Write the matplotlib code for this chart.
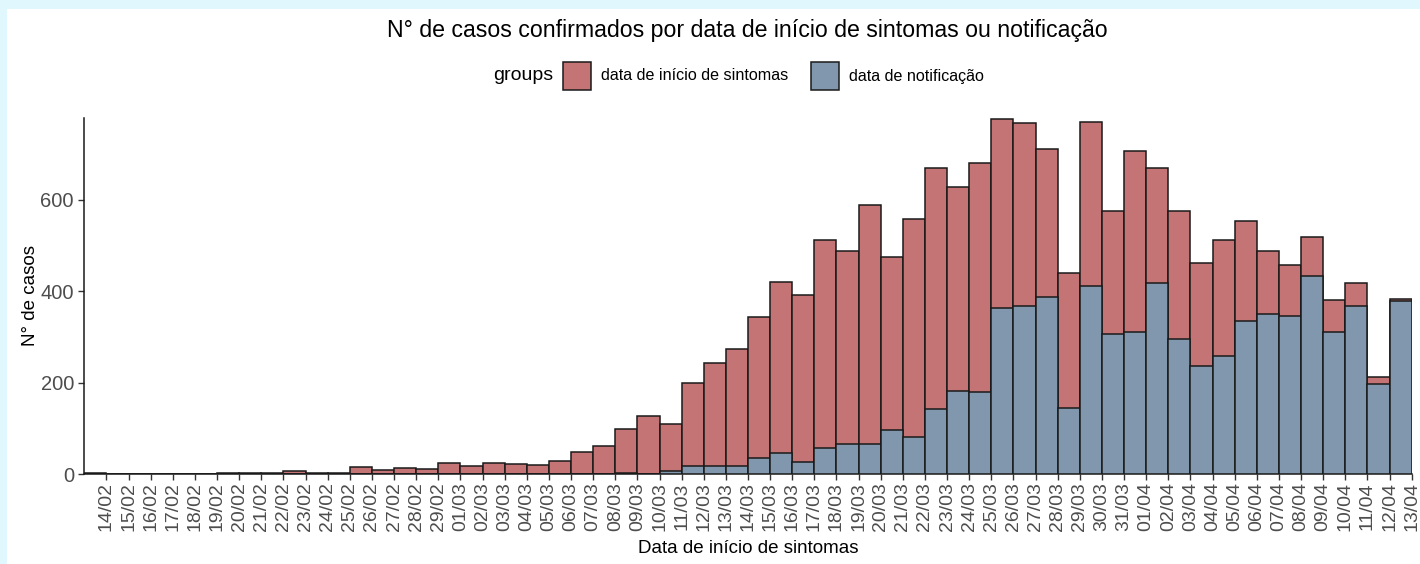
import matplotlib
matplotlib.use("Agg")
import matplotlib.pyplot as plt
import matplotlib.transforms as mtransforms
from matplotlib.patches import Rectangle
import numpy as np
import pandas as pd

# one bar per day, 13/02 .. 12/04 (2020)
days = pd.date_range("2020-02-13", "2020-04-12", freq="D")
tick_days = pd.date_range("2020-02-14", "2020-04-13", freq="D")

inicio_sintomas = [
    3, 0, 0, 0, 0, 0, 2, 2, 2, 6, 3, 3, 15, 9, 14, 11, 23,
    17, 25, 22, 19, 28, 49, 62, 99, 128, 109, 199, 244, 274, 344, 421, 393,
    512, 489, 589, 475, 558, 671, 628, 680, 777, 768, 711, 441, 771, 575, 708,
    671, 575, 461, 512, 555, 489, 458, 520, 381, 418, 213, 384,
]
notificacao = [
    1, 0, 0, 0, 0, 0, 0, 0, 0, 0, 0, 0, 0, 0, 0, 0, 0,
    0, 0, 0, 0, 0, 0, 0, 3, 0, 6, 17, 17, 17, 34, 46, 26,
    57, 65, 65, 96, 82, 142, 182, 179, 364, 367, 387, 145, 412, 307, 310,
    418, 296, 236, 259, 334, 350, 345, 433, 310, 367, 196, 378,
]

RED = "#c47474"
BLUE = "#8197ae"
GREY = "#4d4d4d"
FONT = "Liberation Sans"

plt.rcParams["font.family"] = [FONT, "DejaVu Sans"]

fig = plt.figure(figsize=(14.2, 5.64), dpi=100)
fig.patch.set_facecolor("#e0f7fd")
fig.patches.append(Rectangle((7 / 1420, 0), 1, (564 - 9) / 564, transform=fig.transFigure,
                             facecolor="white", edgecolor="none", zorder=-10))

ax = fig.add_axes([84.3 / 1420, 90 / 564, 1327.4 / 1420, 356 / 564])
ax.set_facecolor("none")
ax.set_zorder(2)

x = np.arange(len(days)) + 0.5
ax.bar(x, inicio_sintomas, width=1.0, color=RED, edgecolor="#1a1a1a", linewidth=1.1, zorder=2)
ax.bar(x, notificacao, width=1.0, color=BLUE, edgecolor="#1a1a1a", linewidth=1.1, zorder=3)

ax.set_xlim(0, len(days))
ax.set_ylim(0, 779.5)
ax.set_xticks(np.arange(1, len(tick_days) + 1))
ax.set_xticklabels([d.strftime("%d/%m") for d in tick_days], rotation=90, fontsize=14, color=GREY)
shift = mtransforms.ScaledTranslation(3 / 100, 0, fig.dpi_scale_trans)
for lab in ax.get_xticklabels():
    lab.set_transform(lab.get_transform() + shift)
ax.set_yticks([0, 200, 400, 600])
ax.tick_params(axis="y", labelsize=14.5, labelcolor=GREY, length=4, width=1, color="#333333")
ax.tick_params(axis="x", length=4, width=1, color="#333333", pad=2)

for side in ("top", "right"):
    ax.spines[side].set_visible(False)
for side in ("left", "bottom"):
    ax.spines[side].set_linewidth(1.1)
    ax.spines[side].set_color("#1a1a1a")

ax.set_ylabel("N° de casos", fontsize=13.5, labelpad=1)
ax.set_xlabel("Data de início de sintomas", fontsize=13.5, labelpad=6)

fig.text(747 / 1420, 1 - 30 / 564, "N° de casos confirmados por data de início de sintomas ou notificação",
         ha="center", va="center", fontsize=16.7)

# legend, laid out by hand like ggplot's top legend
ly = 1 - 76 / 564
fig.text(493 / 1420, ly, "groups", ha="left", va="center", fontsize=14)
for left, col, label in [(563, RED, "data de início de sintomas"), (811, BLUE, "data de notificação")]:
    fig.patches.append(Rectangle((left / 1420, ly - 14 / 564), 28 / 1420, 28 / 564,
                                 transform=fig.transFigure, facecolor=col,
                                 edgecolor="#1a1a1a", linewidth=1.1))
    fig.text((left + 38) / 1420, ly, label, ha="left", va="center", fontsize=11.6)

fig.savefig("out.png", dpi=100, facecolor=fig.get_facecolor())
